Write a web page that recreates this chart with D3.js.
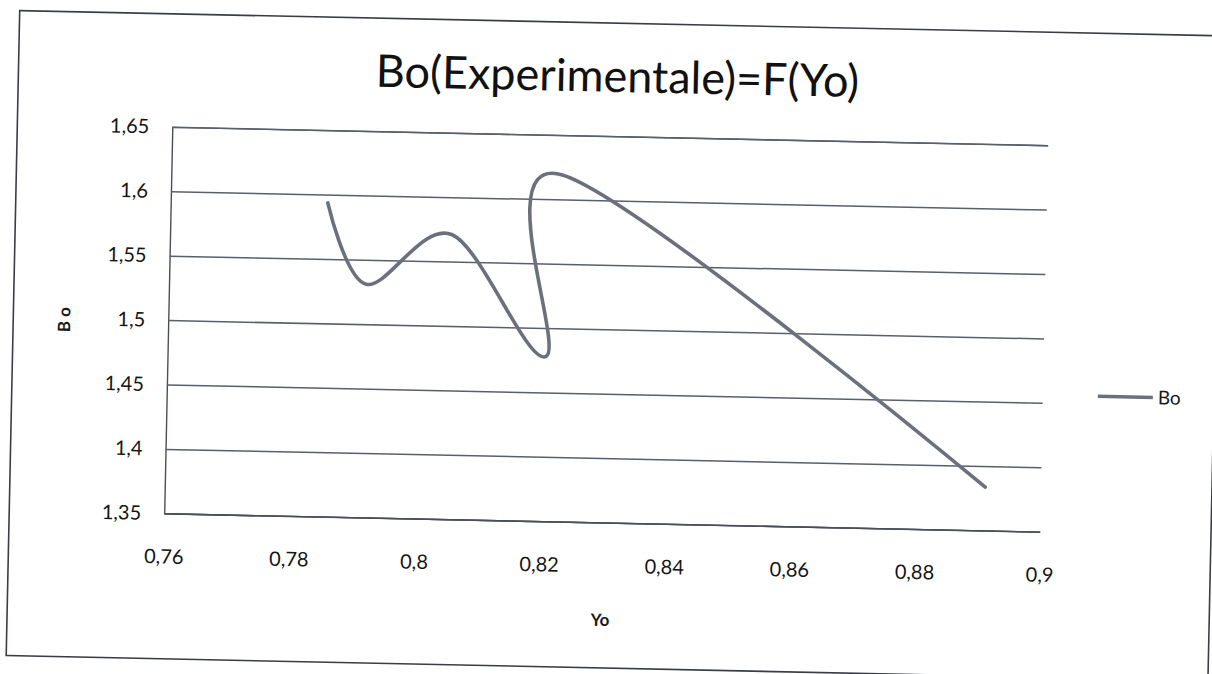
<!DOCTYPE html>
<html>
<head>
<meta charset="utf-8">
<script src="https://cdn.jsdelivr.net/npm/d3@7"></script>
<style>
  body { margin: 0; background: #fff; }
  #canvas { width: 1212px; height: 674px; overflow: hidden; }
  text { font-family: Lato, "Open Sans", sans-serif; fill: #1a1a1a; }
</style>
</head>
<body>
<div id="canvas"></div>
<script>
// values
const yoValues = [0.7851, 0.7915, 0.805, 0.8205, 0.8225, 0.8911];
const boValues = [1.5935, 1.531, 1.571, 1.478, 1.619, 1.3836];
const xTicks = [0.76, 0.78, 0.8, 0.82, 0.84, 0.86, 0.88, 0.9];
const yTicks = [1.35, 1.4, 1.45, 1.5, 1.55, 1.6, 1.65];
const seriesName = "Bo";
const chartTitle = "Bo(Experimentale)=F(Yo)";

const w = 1212;
const h = 674;
const plot = { left: 168, right: 1044, top: 136, bottom: 522.5 };

const svg = d3.select("#canvas")
              .append("svg")
              .attr("width", w)
              .attr("height", h);

// the scan is slightly tilted, so the whole chart is rotated a bit
const chart = svg.append("g")
                 .attr("transform", "rotate(1.2, 606, 337)");

// outer chart frame
chart.append("rect")
     .attr("x", 13).attr("y", 23)
     .attr("width", 1202).attr("height", 645)
     .style("fill", "none")
     .style("stroke", "#3a3d46")
     .style("stroke-width", 1.6);

const x = d3.scaleLinear()
            .domain([0.76, 0.9])
            .range([plot.left, plot.right]);

const y = d3.scaleLinear()
            .domain([1.35, 1.65])
            .range([plot.bottom, plot.top]);

const comma = d => String(+d.toFixed(2)).replace(".", ",");

//gridlines
const yAxis = d3.axisLeft(y)
                .tickValues(yTicks)
                .tickSize(-(plot.right - plot.left))
                .tickPadding(23)
                .tickFormat(comma);

const gy = chart.append("g")
     .attr("transform", "translate(" + plot.left + ",0)")
     .call(yAxis);
gy.select(".domain").style("stroke", "#4a4e5a").style("stroke-width", 1.4);
gy.selectAll(".tick line").style("stroke", "#5a5f6e").style("stroke-width", 1.5);
gy.selectAll(".tick text")
  .style("font-size", "20px")
  .style("font-family", "Lato, sans-serif")
  .style("fill", "#151515");

const xAxis = d3.axisBottom(x)
                .tickValues(xTicks)
                .tickSize(0)
                .tickPadding(36)
                .tickFormat(comma);

const gx = chart.append("g")
     .attr("transform", "translate(0," + plot.bottom + ")")
     .call(xAxis);
gx.select(".domain").style("stroke", "#4a4e5a").style("stroke-width", 1.4);
gx.selectAll(".tick text")
  .style("font-size", "20px")
  .style("font-family", "Lato, sans-serif")
  .style("fill", "#151515");

// series line, smoothed like the spreadsheet does it
const data = yoValues.map((d, i) => ({ yo: d, bo: boValues[i] }));
const line = d3.line()
               .x(d => x(d.yo))
               .y(d => y(d.bo))
               .curve(d3.curveCardinal.tension(0));

chart.append("path")
     .datum(data)
     .attr("d", line)
     .style("fill", "none")
     .style("stroke", "#6b707c")
     .style("stroke-width", 3.6)
     .style("stroke-linecap", "round")
     .style("stroke-linejoin", "round");

// titles
chart.append("text")
     .attr("x", 612).attr("y", 76)
     .attr("dy", "0.35em")
     .attr("text-anchor", "middle")
     .style("font-size", "45px")
     .style("fill", "#111")
     .text(chartTitle);

chart.append("text")
     .attr("transform", "translate(64,331) rotate(-90)")
     .attr("dy", "0.35em")
     .attr("text-anchor", "middle")
     .style("font-size", "17px")
     .style("font-weight", "bold")
     .text("B o");

chart.append("text")
     .attr("x", 606).attr("y", 620)
     .attr("dy", "0.35em")
     .attr("text-anchor", "middle")
     .style("font-size", "17px")
     .style("font-weight", "bold")
     .text("Yo");

// legend
const legend = chart.append("g").attr("transform", "translate(1099,386)");
legend.append("line")
      .attr("x1", 0).attr("x2", 55)
      .style("stroke", "#6b707c")
      .style("stroke-width", 3.6);
legend.append("text")
      .attr("x", 60)
      .attr("dy", "0.35em")
      .style("font-size", "19px")
      .text(seriesName);
</script>
</body>
</html>
